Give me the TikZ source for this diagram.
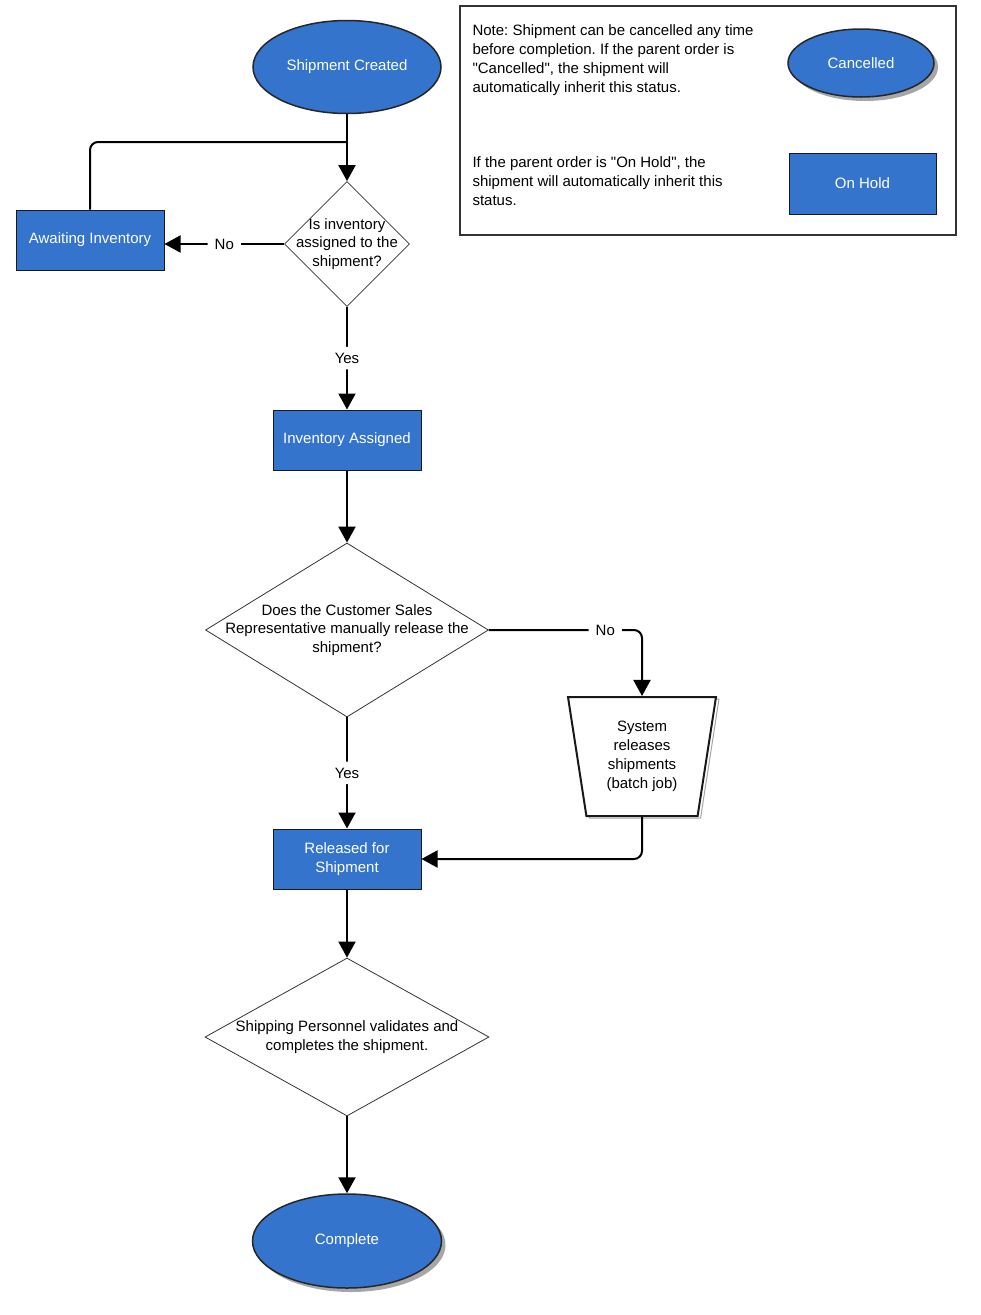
\documentclass[tikz,border=0pt]{standalone}
\usepackage{fontspec}
\setmainfont{Liberation Sans}
\usetikzlibrary{positioning,shapes.geometric,arrows.meta,shadows}
\definecolor{flowblue}{RGB}{52,116,204}
\frenchspacing
\begin{document}
\begin{tikzpicture}[x=1pt, y=-1pt, on grid,
  font=\fontsize{15pt}{18.8pt}\selectfont,
  >={Triangle[length=16pt,width=17pt]},
  flow/.style = {->, line width=2pt, rounded corners=8pt},
  state/.style = {ellipse, draw=black!85, line width=1.5pt, fill=flowblue, text=white, minimum width=188pt, minimum height=93pt},
  stepbox/.style = {rectangle, draw=black!90, line width=1pt, fill=flowblue, text=white, minimum width=148pt, minimum height=60pt, align=center},
  check/.style = {diamond, draw=black!80, line width=0.8pt, inner sep=0pt},
  shade/.style = {general shadow={shadow xshift=4pt, shadow yshift=-4pt, fill=black!35}},
  tag/.style = {fill=white, inner xsep=7pt, inner ysep=6pt}]
\useasboundingbox (0,0) rectangle (981,1315);
\node[state] (sc) at (347,67) {Shipment Created};
\node[check, minimum width=125pt, minimum height=125pt] (d1) [below=177pt of sc] {};
\node[align=center] (d1text) at (d1.center) {Is inventory\\assigned to the\\shipment?};
\node[stepbox] (await) [left=257pt of d1, yshift=4pt] {Awaiting Inventory};
\node[stepbox] (ia) [below=196pt of d1] {Inventory Assigned};
\node[check, minimum width=283pt, minimum height=174pt] (d2) [below=190pt of ia] {};
\node[align=center] (d2text) at (d2.center) {Does the Customer Sales\\Representative manually release the\\shipment?};
\node[trapezium, shape border rotate=180, trapezium left angle=76.5, trapezium right angle=76.5,
  trapezium stretches body, minimum width=148pt, minimum height=119pt, align=center,
  draw=black!90, line width=2pt, fill=white,
  general shadow={shadow xshift=3pt, shadow yshift=-2pt, draw=black!35, line width=1pt, fill=white}]
  (sys) [below right=126.5pt and 295pt of d2] {System\\releases\\shipments\\(batch job)};
\node[stepbox] (rfs) [below=229pt of d2] {Released for\\Shipment};
\node[check, minimum width=284pt, minimum height=158pt] (d3) [below=178pt of rfs] {};
\node[align=center] (d3text) at (d3.center) {Shipping Personnel validates and\\completes the shipment.};
\node[state, minimum width=189pt, minimum height=94pt, shade] (done) [below=204pt of d3] {Complete};
\node[draw=black!80, line width=1.8pt, minimum width=496pt, minimum height=229pt] (note) at (708,120.5) {};
\node[align=left, anchor=west] (note1) at (469,60) {Note: Shipment can be cancelled any time\\before completion. If the parent order is\\\textquotedbl Cancelled\textquotedbl, the shipment will\\automatically inherit this status.};
\node[align=left, anchor=west] (note2) at (469,181) {If the parent order is \textquotedbl On Hold\textquotedbl, the\\shipment will automatically inherit this\\status.};
\node[state, minimum width=146pt, minimum height=68pt, shade] (cancel) at (861,63) {Cancelled};
\node[stepbox, minimum width=147pt, minimum height=61pt] (hold) at (862.5,183.5) {On Hold};
\coordinate (join) at (347,142);
\draw[flow] (sc) -- (d1);
\draw[flow, -] (await.north) |- (join);
\draw[flow] (d1.west) -- node[tag] {No} (d1.west -| await.east);
\draw[flow] (d1) -- node[tag] {Yes} (ia);
\draw[flow] (ia) -- (d2);
\draw[flow] (d2.east) -| node[tag, pos=0.38] {No} (sys.north);
\draw[flow] (d2) -- node[tag] {Yes} (rfs);
\draw[flow] (sys.south) |- (rfs.east);
\draw[flow] (rfs) -- (d3);
\draw[flow] (d3) -- (done);
\end{tikzpicture}
\end{document}
